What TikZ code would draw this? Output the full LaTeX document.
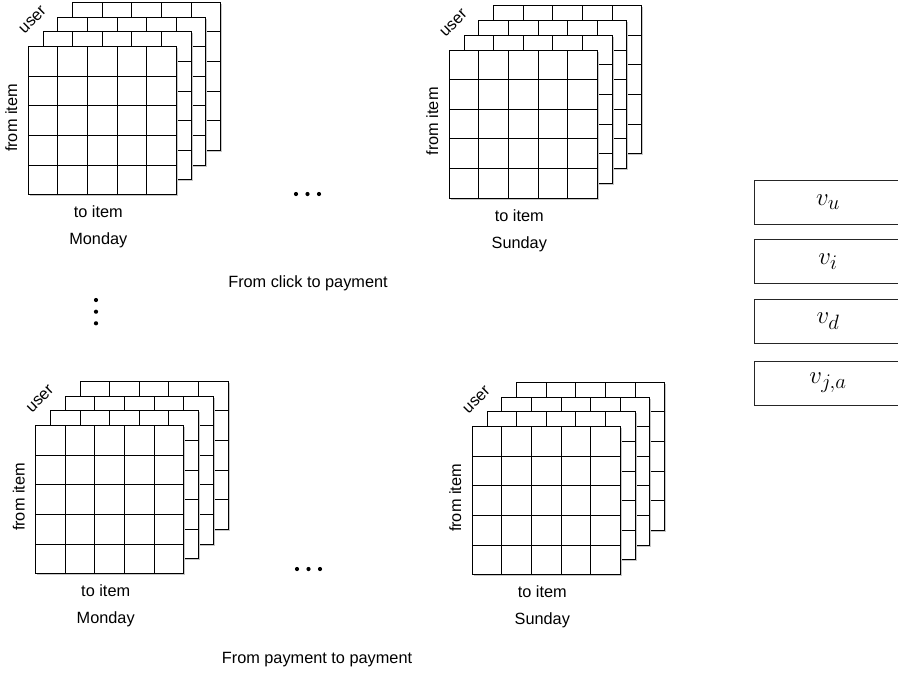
\documentclass[tikz,border=0pt]{standalone}
\usepackage{fontspec}
\setmainfont{Liberation Sans}
\usepackage{tikz}
\usetikzlibrary{positioning}
\tikzset{
  layer/.style={draw=black, fill=white, line width=0.9pt},
  cellline/.style={draw=black, line width=0.9pt},
  shade/.style={fill=black!22},
  lbl/.style={font=\fontsize{16.3}{18}\selectfont, inner sep=0pt},
  dotmark/.style={circle, fill=black, inner sep=0pt, minimum size=4.2pt},
  vecbox/.style={rectangle, draw=black!85, line width=0.8pt, minimum width=148pt,
                 minimum height=44pt, inner sep=0pt, font=\fontsize{28}{30}\selectfont}
}
\newcommand{\gridstack}[4]{%
  \foreach \k in {3,2,1,0} {
    \fill[shade] (#1+\k*\lay+1.5, #2-\k*\lay+1.5) rectangle ++(\side,\side);
    \draw[layer] (#1+\k*\lay, #2-\k*\lay) rectangle ++(\side,\side);
    \foreach \c in {1,...,4} {
      \draw[cellline] (#1+\k*\lay+\c*\cell, #2-\k*\lay) -- ++(0,\side);
      \draw[cellline] (#1+\k*\lay, #2-\k*\lay+\c*\cell) -- ++(\side,0);
    }
  }
  \coordinate (#3) at (#1,#2);
  \node[lbl, rotate=45] (#3User) at (#1+4.5, #2-26.7) {user};
  \node[lbl, rotate=90] (#3From) at (#1-17, #2+71.3) {from item};
  \node[lbl] (#3To) at (#1+70, #2+165.3) {to item};
  \node[lbl] (#3Day) at (#1+70, #2+194) {#4};
}

\begin{document}
\begin{tikzpicture}[x=1pt,y=-1pt]
  \useasboundingbox (0,0) rectangle (898,673);
  \def\cell{29.6}
  \def\side{148}
  \def\lay{14.8}

  \gridstack{28.3}{46.7}{clickMon}{Monday}
  \gridstack{449.3}{50}{clickSun}{Sunday}
  \gridstack{35.7}{425.7}{payMon}{Monday}
  \gridstack{472.3}{426.7}{paySun}{Sunday}

  \foreach \i/\x in {1/296,2/307.5,3/319} {
    \node[dotmark] (clickDot\i) at (\x,194) {};
    \node[dotmark] (payDot\i) at (\x+1,569) {};
  }
  \foreach \i/\y in {1/300,2/311.7,3/323.3} {
    \node[dotmark] (vDot\i) at (96,\y) {};
  }

  \node[lbl] (clickTitle) at (308,283) {From click to payment};
  \node[lbl] (payTitle) at (317,660) {From payment to payment};

  \node[vecbox] (vu) at (828,202) {$v_u$};
  \node[vecbox] (vi) at (828,261.7) {$v_i$};
  \node[vecbox] (vd) at (828,321) {$v_d$};
  \node[vecbox] (vja) at (828,383) {$v_{j,a}$};
\end{tikzpicture}
\end{document}
